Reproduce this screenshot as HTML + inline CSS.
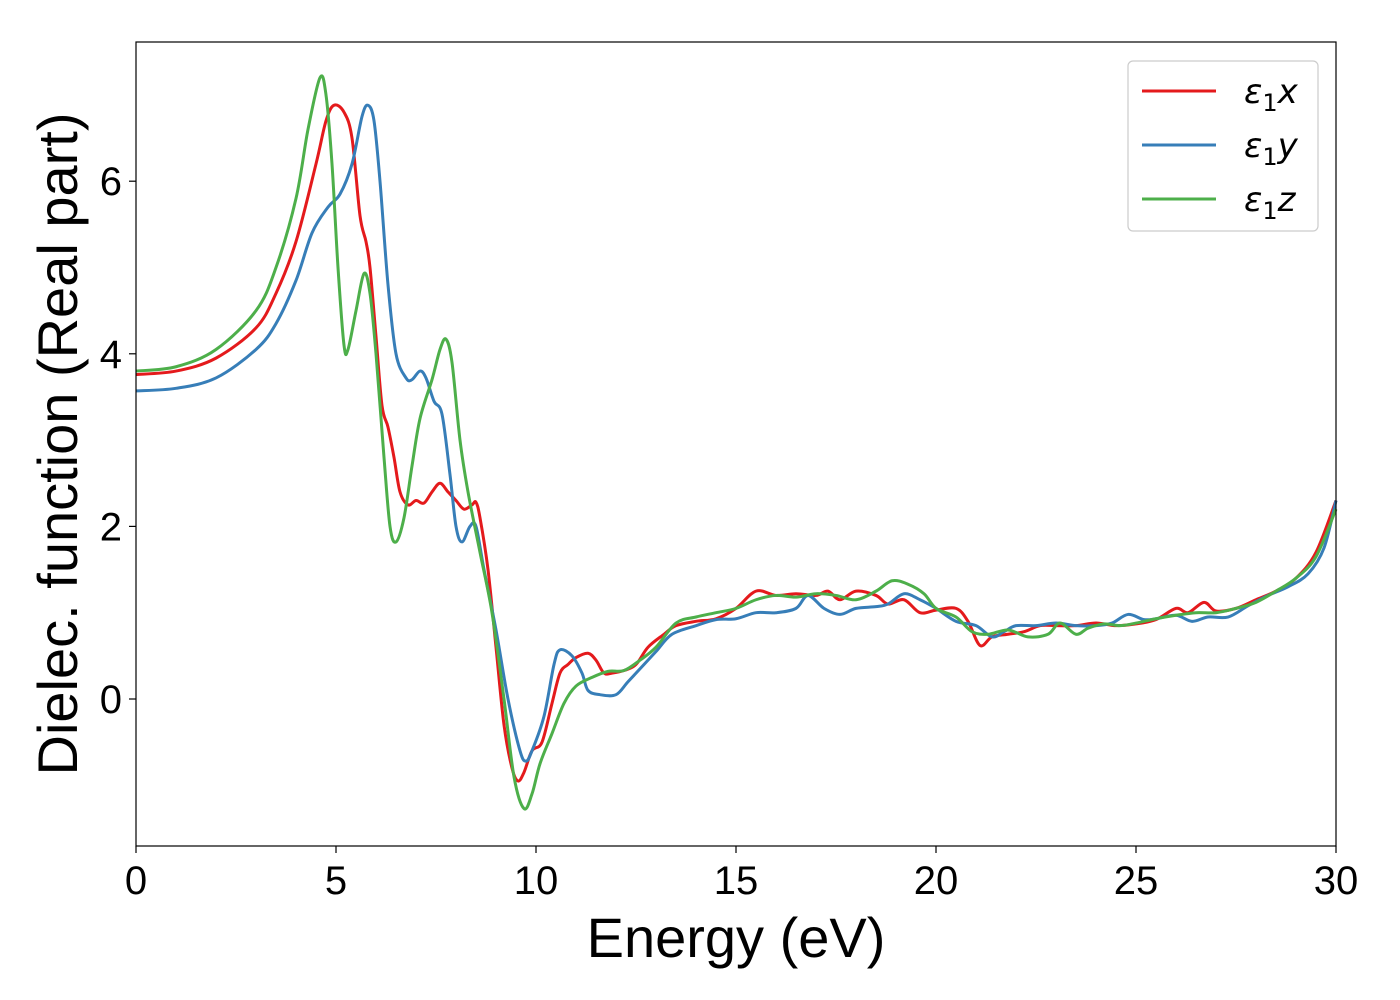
<!DOCTYPE html>
<html><head><meta charset="utf-8"><style>
body{margin:0;background:#fff}
svg{display:block;font-family:"Liberation Sans","DejaVu Sans",sans-serif}
</style></head><body>
<svg id="chart" width="1400" height="1000">
<rect x="0" y="0" width="1400" height="1000" fill="#fff"/>
<g id="series"></g>
<rect x="136" y="42" width="1200" height="804" fill="none" stroke="#000" stroke-width="1.2"/>
<g id="ticks"></g>
<text x="736" y="957" font-size="56" text-anchor="middle">Energy (eV)</text>
<text transform="translate(77,444) rotate(-90)" font-size="56" text-anchor="middle">Dielec. function (Real part)</text>
<g>
<rect x="1128" y="61" width="190" height="170" rx="5" fill="#fff" stroke="#ccc" stroke-width="1.2"/>
<g><line x1="1142" y1="91" x2="1216" y2="91" stroke="#e41a1c" stroke-width="3"/><text x="1244" y="103" font-size="34" font-family="DejaVu Sans" font-style="italic">ε<tspan font-size="24" dy="8" font-style="normal">1</tspan><tspan dy="-8">x</tspan></text></g>
<g><line x1="1142" y1="145" x2="1216" y2="145" stroke="#377eb8" stroke-width="3"/><text x="1244" y="157" font-size="34" font-family="DejaVu Sans" font-style="italic">ε<tspan font-size="24" dy="8" font-style="normal">1</tspan><tspan dy="-8">y</tspan></text></g>
<g><line x1="1142" y1="199" x2="1216" y2="199" stroke="#4daf4a" stroke-width="3"/><text x="1244" y="211" font-size="34" font-family="DejaVu Sans" font-style="italic">ε<tspan font-size="24" dy="8" font-style="normal">1</tspan><tspan dy="-8">z</tspan></text></g>
</g>
</svg>
<script>
const xTicks=[0,5,10,15,20,25,30];
const yTicks=[0,2,4,6];
const energyX=[0,1,2,3,3.5,4,4.5,4.75,4.95,5.2,5.4,5.6,5.75,5.85,6.0,6.15,6.3,6.45,6.6,6.8,7.0,7.2,7.4,7.6,7.8,8.0,8.2,8.4,8.5,8.6,8.8,9.0,9.2,9.4,9.55,9.7,9.9,10.15,10.4,10.6,10.8,11.0,11.3,11.5,11.7,11.9,12.2,12.5,12.8,13.2,13.5,14,14.5,15,15.5,16,16.5,17,17.3,17.6,18,18.5,18.8,19.2,19.6,20,20.5,20.8,21.1,21.4,21.8,22.2,22.6,23,23.5,24,24.5,25,25.5,26,26.3,26.7,27,27.5,28,28.5,29,29.5,30];
const epsX=[3.76,3.8,3.95,4.3,4.7,5.3,6.2,6.7,6.88,6.8,6.5,5.6,5.3,5.0,4.2,3.4,3.15,2.8,2.4,2.25,2.3,2.27,2.4,2.5,2.4,2.3,2.2,2.25,2.28,2.1,1.5,0.6,-0.3,-0.8,-0.95,-0.85,-0.6,-0.5,-0.05,0.3,0.4,0.48,0.53,0.45,0.3,0.3,0.33,0.4,0.6,0.75,0.85,0.9,0.93,1.05,1.25,1.2,1.22,1.2,1.25,1.15,1.25,1.2,1.1,1.15,1.0,1.03,1.05,0.9,0.62,0.72,0.75,0.78,0.85,0.85,0.85,0.88,0.85,0.87,0.92,1.05,1.0,1.12,1.02,1.05,1.15,1.25,1.4,1.7,2.3];
const energyY=[0,1,2,3,3.5,4,4.4,4.8,5.1,5.4,5.65,5.8,5.95,6.1,6.3,6.5,6.75,6.9,7.1,7.25,7.45,7.65,7.85,8.0,8.15,8.35,8.5,8.7,9.0,9.3,9.6,9.75,9.9,10.2,10.45,10.6,10.9,11.15,11.3,11.6,12.0,12.3,12.7,13.0,13.4,14,14.5,15,15.5,16,16.5,16.8,17.2,17.6,18,18.5,18.8,19.2,19.6,20,20.5,21,21.4,21.7,22,22.5,23,23.5,24,24.4,24.8,25.2,25.5,26,26.4,26.8,27.3,27.8,28.3,28.8,29.3,29.7,30];
const epsY=[3.57,3.6,3.72,4.05,4.35,4.85,5.4,5.7,5.85,6.2,6.75,6.88,6.7,6.0,4.8,4.0,3.72,3.7,3.8,3.72,3.45,3.3,2.6,2.0,1.82,2.0,2.0,1.5,0.8,0.0,-0.6,-0.72,-0.6,-0.2,0.4,0.57,0.5,0.3,0.1,0.05,0.05,0.2,0.4,0.55,0.75,0.85,0.92,0.93,1.0,1.0,1.05,1.2,1.05,0.98,1.05,1.07,1.1,1.22,1.15,1.05,0.9,0.85,0.72,0.78,0.85,0.85,0.88,0.85,0.85,0.88,0.98,0.92,0.93,0.97,0.9,0.95,0.95,1.08,1.2,1.3,1.45,1.75,2.3];
const energyZ=[0,1,2,3,3.5,4.0,4.3,4.6,4.75,4.9,5.05,5.2,5.3,5.5,5.7,5.85,6.0,6.2,6.35,6.5,6.7,6.9,7.1,7.4,7.6,7.75,7.9,8.1,8.3,8.6,8.9,9.2,9.45,9.7,9.9,10.1,10.4,10.7,11.0,11.4,11.8,12.2,12.6,13,13.5,14,14.5,15,15.5,16,16.5,17,17.5,18,18.5,18.9,19.3,19.7,20,20.5,20.9,21.3,21.8,22.3,22.8,23.1,23.5,23.8,24.2,24.6,25,25.5,26,26.5,27,27.5,28,28.5,29,29.5,30];
const epsZ=[3.8,3.85,4.05,4.5,5.0,5.8,6.6,7.2,7.0,6.2,5.0,4.1,4.05,4.5,4.93,4.7,4.0,2.8,2.0,1.82,2.1,2.7,3.25,3.7,4.05,4.17,3.9,3.0,2.4,1.7,1.0,0.0,-0.9,-1.27,-1.1,-0.75,-0.4,-0.05,0.15,0.25,0.32,0.33,0.45,0.6,0.88,0.95,1.0,1.05,1.15,1.2,1.18,1.22,1.2,1.15,1.25,1.37,1.33,1.22,1.05,0.95,0.78,0.75,0.8,0.72,0.75,0.88,0.75,0.82,0.87,0.85,0.88,0.93,0.97,1.0,1.0,1.05,1.12,1.25,1.4,1.65,2.2];

const NS='http://www.w3.org/2000/svg';
const X0=136,X1=1336,Y0v=699,pxPerY=86.3;
function sx(v){return X0+(v/30)*(X1-X0);}
function sy(v){return Y0v-v*pxPerY;}
function pathFor(xs,ys){
  const p=xs.map((x,i)=>[sx(x),sy(ys[i])]);
  let d='M'+p[0][0]+','+p[0][1];
  for(let i=0;i<p.length-1;i++){
    const a=p[Math.max(0,i-1)],b=p[i],c=p[i+1],e=p[Math.min(p.length-1,i+2)];
    const c1=[b[0]+(c[0]-a[0])/6,b[1]+(c[1]-a[1])/6];
    const c2=[c[0]-(e[0]-b[0])/6,c[1]-(e[1]-b[1])/6];
    d+=' C'+c1[0].toFixed(2)+','+c1[1].toFixed(2)+' '+c2[0].toFixed(2)+','+c2[1].toFixed(2)+' '+c[0].toFixed(2)+','+c[1].toFixed(2);
  }
  return d;
}
const g=document.getElementById('series');
[[energyX,epsX,'#e41a1c','eps1-x-line'],[energyY,epsY,'#377eb8','eps1-y-line'],[energyZ,epsZ,'#4daf4a','eps1-z-line']].forEach(s=>{
  const el=document.createElementNS(NS,'path');
  el.setAttribute('d',pathFor(s[0],s[1]));
  el.setAttribute('fill','none');el.setAttribute('stroke',s[2]);el.setAttribute('stroke-width','3');
  
  
  g.appendChild(el);
});
const t=document.getElementById('ticks');
xTicks.forEach(v=>{
  const l=document.createElementNS(NS,'line');
  l.setAttribute('x1',sx(v));l.setAttribute('x2',sx(v));l.setAttribute('y1',846);l.setAttribute('y2',853);l.setAttribute('stroke','#000');l.setAttribute('stroke-width','1.2');
  
  
  t.appendChild(l);
  const tx=document.createElementNS(NS,'text');
  tx.setAttribute('x',sx(v));tx.setAttribute('y',894);tx.setAttribute('font-size','40');tx.setAttribute('text-anchor','middle');
  tx.textContent=v;
  
  
  t.appendChild(tx);
});
yTicks.forEach(v=>{
  const l=document.createElementNS(NS,'line');
  l.setAttribute('x1',129);l.setAttribute('x2',136);l.setAttribute('y1',sy(v));l.setAttribute('y2',sy(v));l.setAttribute('stroke','#000');l.setAttribute('stroke-width','1.2');
  
  
  t.appendChild(l);
  const tx=document.createElementNS(NS,'text');
  tx.setAttribute('x',122);tx.setAttribute('y',sy(v)+14);tx.setAttribute('font-size','40');tx.setAttribute('text-anchor','end');
  tx.textContent=v;
  
  
  t.appendChild(tx);
});
</script>
</body></html>
